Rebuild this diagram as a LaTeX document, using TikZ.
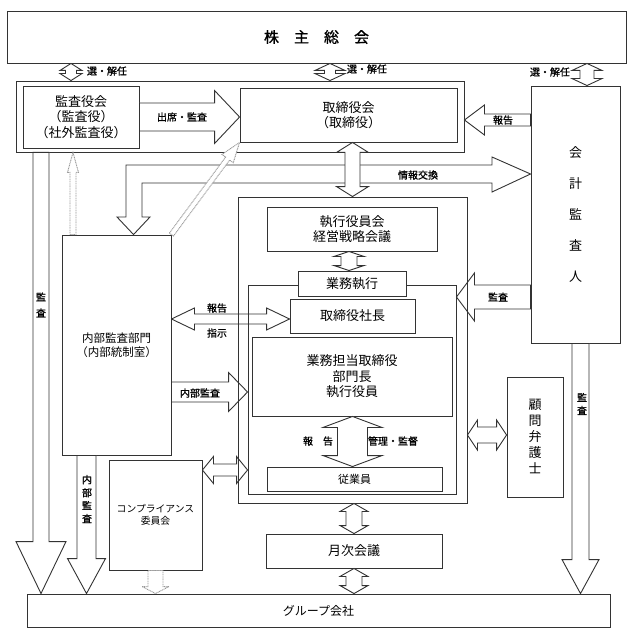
\documentclass[tikz,border=0pt]{standalone}
\usepackage{fontspec}
\setmainfont{Noto Sans CJK JP}
\newfontfamily\jpb[FakeBold=1.0]{Noto Sans CJK JP}
\usetikzlibrary{calc}
\pgfdeclarelayer{bg}
\pgfsetlayers{bg,main}

% single block arrow: [style]{tail}{tip}{shaft half width}{head half width}{head length}
\newcommand\sarr[6][]{%
  \path[barrow,#1] let \p1=#2, \p2=#3,
    \n1={veclen(\x2-\x1,\y2-\y1)},
    \n2={(\x2-\x1)/\n1}, \n3={(\y2-\y1)/\n1} in
    ({\x1-(\n3)*#4},{\y1+(\n2)*#4})
 -- ({\x2-(\n2)*#6-(\n3)*#4},{\y2-(\n3)*#6+(\n2)*#4})
 -- ({\x2-(\n2)*#6-(\n3)*#5},{\y2-(\n3)*#6+(\n2)*#5})
 -- (\x2,\y2)
 -- ({\x2-(\n2)*#6+(\n3)*#5},{\y2-(\n3)*#6-(\n2)*#5})
 -- ({\x2-(\n2)*#6+(\n3)*#4},{\y2-(\n3)*#6-(\n2)*#4})
 -- ({\x1+(\n3)*#4},{\y1-(\n2)*#4}) -- cycle;}

% double block arrow
\newcommand\darr[6][]{%
  \path[barrow,#1] let \p1=#2, \p2=#3,
    \n1={veclen(\x2-\x1,\y2-\y1)},
    \n2={(\x2-\x1)/\n1}, \n3={(\y2-\y1)/\n1} in
    (\x1,\y1)
 -- ({\x1+(\n2)*#6-(\n3)*#5},{\y1+(\n3)*#6+(\n2)*#5})
 -- ({\x1+(\n2)*#6-(\n3)*#4},{\y1+(\n3)*#6+(\n2)*#4})
 -- ({\x2-(\n2)*#6-(\n3)*#4},{\y2-(\n3)*#6+(\n2)*#4})
 -- ({\x2-(\n2)*#6-(\n3)*#5},{\y2-(\n3)*#6+(\n2)*#5})
 -- (\x2,\y2)
 -- ({\x2-(\n2)*#6+(\n3)*#5},{\y2-(\n3)*#6-(\n2)*#5})
 -- ({\x2-(\n2)*#6+(\n3)*#4},{\y2-(\n3)*#6-(\n2)*#4})
 -- ({\x1+(\n2)*#6+(\n3)*#4},{\y1+(\n3)*#6-(\n2)*#4})
 -- ({\x1+(\n2)*#6+(\n3)*#5},{\y1+(\n3)*#6-(\n2)*#5})
 -- cycle;}

\tikzset{
  box/.style={draw=black!80, line width=0.9pt, fill=white, inner sep=1pt, align=center,
              font=\fontsize{13}{15.5}\selectfont},
  frame/.style={draw=black!80, line width=0.9pt, inner sep=0pt},
  barrow/.style={draw=black!80, line width=0.9pt, fill=white, line join=miter},
  garrow/.style={draw=black!40, dash pattern=on 1pt off 0.7pt},
  lbl/.style={font=\jpb\fontsize{10}{12}\selectfont, inner sep=0pt},
  vlbl/.style={font=\jpb\fontsize{10}{16}\selectfont, inner sep=0pt, align=center},
}

\begin{document}
\begin{tikzpicture}[x=1pt,y=-1pt]
\useasboundingbox (0,0) rectangle (633,639);

% helper coordinates
\coordinate (cxL) at (71,0);
\coordinate (cxM) at (330,0);
\coordinate (cxR) at (587,0);
\coordinate (yRep) at (0,120);
\coordinate (yInfo) at (0,174);
\coordinate (cxInfo) at (133.5,0);
\coordinate (cxG) at (73,0);
\coordinate (cxI) at (41,0);
\coordinate (cxJ) at (86.5,0);
\coordinate (yK) at (0,319);
\coordinate (yL) at (0,392);
\coordinate (yM) at (0,470);
\coordinate (cxO) at (580.5,0);
\coordinate (yP) at (0,297);
\coordinate (cxQ) at (349,0);
\coordinate (cxR2) at (352.5,0);
\coordinate (yS) at (0,435);

% boxes and frames
\node[box, minimum width=619, minimum height=52] (top) at (316.5,37)
  {\jpb\fontsize{15}{18}\selectfont 株　主　総　会};
\node[box, minimum width=448, minimum height=71] (outerA) at (240,116.5) {};
\node[box, minimum width=116, minimum height=62] (kansa) at (81,117)
  {監査役会\\（監査役）\\（社外監査役）};
\node[box, minimum width=217, minimum height=54] (torishimari) at (348.5,115)
  {取締役会\\（取締役）};
\node[box, minimum width=89, minimum height=257, font=\fontsize{13}{31}\selectfont] (kaikei) at (575.5,214.5)
  {会\\計\\監\\査\\人};
\node[box, minimum width=109, minimum height=220, font=\fontsize{11.5}{14}\selectfont] (naibu) at (116.5,345)
  {内部監査部門\\（内部統制室）};
\node[frame, minimum width=229, minimum height=306] (bigframe) at (352.5,350) {};
\node[frame, minimum width=208, minimum height=209] (inner) at (352,389.5) {};
\node[box, minimum width=170, minimum height=44] (shikkou) at (352,229)
  {執行役員会\\経営戦略会議};
\node[box, minimum width=108, minimum height=25] (gyomu) at (352,283.5) {業務執行};
\node[box, minimum width=125, minimum height=34] (shacho) at (352.5,316) {取締役社長};
\node[box, minimum width=200, minimum height=79] (tanto) at (352,376.5)
  {業務担当取締役\\部門長\\執行役員};
\node[box, minimum width=175, minimum height=24, font=\fontsize{11}{13}\selectfont] (jugyoin) at (354.5,479) {従業員};
\node[box, minimum width=93, minimum height=110, font=\fontsize{9.8}{12.5}\selectfont] (comp) at (155.5,515)
  {コンプライアンス\\委員会};
\node[box, minimum width=176, minimum height=34] (getsuji) at (354,551) {月次会議};
\node[box, minimum width=583, minimum height=33, font=\fontsize{12}{14}\selectfont] (group) at (318.5,610.5) {グループ会社};
\node[box, minimum width=56, minimum height=120, font=\fontsize{13}{16}\selectfont] (komon) at (535,437)
  {顧\\問\\弁\\護\\士};

% arrows under the frames
\begin{pgfonlayer}{bg}
\path[barrow] (kaikei.west |- yInfo) -- (492,157) -- (492,165) -- (126,165) -- (126,217)
  -- (117,217) -- (naibu.north -| cxInfo) -- (150,217) -- (142,217) -- (142,183)
  -- (492,183) -- (492,192) -- cycle;
\darr{(naibu.east |- yK)}{(shacho.west |- yK)}{5}{11}{23}
\sarr{(naibu.east |- yL)}{(inner.west |- yL)}{10}{19.5}{19}
\darr{(comp.east |- yM)}{(inner.west |- yM)}{6}{13.5}{11}
\sarr{(kaikei.west |- yP)}{(inner.east |- yP)}{12}{24}{18}
\darr{(bigframe.east |- yS)}{(komon.west |- yS)}{8}{15}{10}
\end{pgfonlayer}

% arrows on top
\darr{(top.south -| cxL)}{(outerA.north -| cxL)}{5.5}{11}{7}
\darr{(top.south -| cxM)}{(outerA.north -| cxM)}{5.5}{15}{7}
\darr{(top.south -| cxR)}{(kaikei.north -| cxR)}{7}{15}{7}
\sarr{(kansa.east)}{(torishimari.west |- kansa.east)}{14}{26.5}{25}
\sarr{(kaikei.west |- yRep)}{(outerA.east |- yRep)}{6}{15}{20}
\darr{(torishimari.south -| bigframe.north)}{(bigframe.north)}{7.5}{16}{10}
\sarr[garrow]{(naibu.north -| cxG)}{(outerA.south -| cxG)}{3}{5.5}{20}
\sarr[garrow]{(naibu.north east)}{(torishimari.south west)}{2.5}{7}{20}
\sarr{(outerA.south -| cxI)}{(group.north -| cxI)}{8}{25}{52}
\sarr{(naibu.south -| cxJ)}{(group.north -| cxJ)}{9.5}{19}{35}
\sarr[garrow]{(comp.south)}{(group.north -| comp.south)}{7.5}{13.5}{7}
\sarr{(kaikei.south -| cxO)}{(group.north -| cxO)}{8.5}{18.5}{34}
\darr{(shikkou.south -| cxQ)}{(gyomu.north -| cxQ)}{8}{15}{5}
\darr{(tanto.south -| cxR2)}{(jugyoin.north -| cxR2)}{15}{29.5}{11}
\darr{(bigframe.south -| getsuji.north)}{(getsuji.north)}{8}{14}{8}
\darr{(getsuji.south)}{(group.north -| getsuji.south)}{8}{14}{8}

% labels
\node[lbl] (ls1) at (107,71) {選・解任};
\node[lbl] (ls2) at (367,69) {選・解任};
\node[lbl] (ls3) at (550,72) {選・解任};
\node[lbl] (lsk) at (182,117) {出席・監査};
\node[lbl] (lhk) at (503,120) {報告};
\node[lbl] (ljo) at (418,175) {情報交換};
\node[lbl] (lhk2) at (217,308) {報告};
\node[lbl] (lsj) at (217,333) {指示};
\node[lbl] (lnb) at (200,393) {内部監査};
\node[lbl] (lka) at (498,297) {監査};
\node[lbl] (lhk3) at (318,441) {報　告};
\node[lbl] (lkr) at (393,441) {管理・監督};
\node[vlbl] (lv1) at (41,305) {監\\査};
\node[vlbl, font=\jpb\fontsize{10}{13}\selectfont] (lv2) at (87,499) {内\\部\\監\\査};
\node[vlbl, font=\jpb\fontsize{10}{13}\selectfont] (lv3) at (582,404) {監\\査};
\end{tikzpicture}
\end{document}
